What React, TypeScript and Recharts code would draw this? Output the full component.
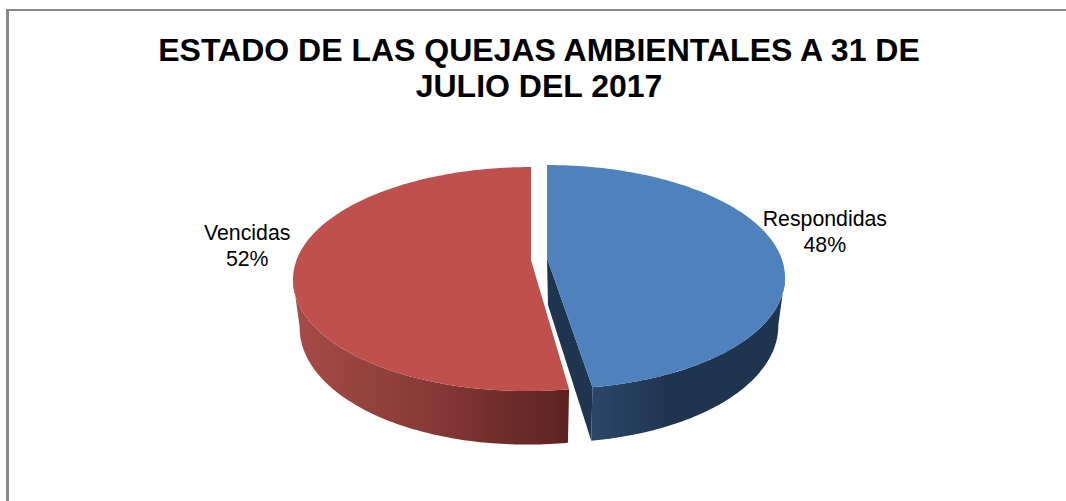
import React from "react";
import { PieChart, Pie } from "recharts";

const categories = ["Respondidas", "Vencidas"];
const seriesValues = [10, 11];
const titleLines = ["ESTADO DE LAS QUEJAS AMBIENTALES A 31 DE", "JULIO DEL 2017"];
const tableData = categories.map((name, i) => ({ name, value: seriesValues[i] }));

const W = 1066;
const H = 501;
const FONT = "'Liberation Sans', Arial, sans-serif";
const TOP_COLORS = ["#4F81BD", "#C0504D"];
const WALL_FILLS = ["url(#blueWall)", "url(#redWall)"];
const INNER_WALL = "#1F344F";
const SHIFT = [
  { dx: 8, dy: -0.5, skew: 3.5, labelDx: 47, labelDy: -24 },
  { dx: -8, dy: 1.5, skew: -4, labelDx: -47, labelDy: -28 },
];
const K = 0.17; // perspective
const BX = 0.985;
const BY = 0.457;
const DEPTH = 47;
const LOWER_X = 0.972;
const LOWER_Y = 1.05;

const rad = (d: number) => (d * Math.PI) / 180;

// theta: degrees clockwise from the top of the pie
function project(theta: number, r: number, cx: number, cy: number, lower: boolean, skew: number) {
  const u = Math.sin(rad(theta));
  const v = -Math.cos(rad(theta));
  const w = 1 - K * v;
  const sx = lower ? LOWER_X : 1;
  const sy = lower ? LOWER_Y : 1;
  return {
    x: cx + (r * BX * sx * u) / w + skew * Math.max(0, v) * Math.max(0, v),
    y: cy + (lower ? DEPTH : 0) + (r * BY * sy * v) / w,
  };
}

function arcPoints(from: number, to: number, r: number, cx: number, cy: number, lower: boolean, skew: number) {
  const n = Math.max(2, Math.ceil(Math.abs(to - from)));
  const pts = [];
  for (let i = 0; i <= n; i++) pts.push(project(from + ((to - from) * i) / n, r, cx, cy, lower, skew));
  return pts;
}

const toPath = (pts: { x: number; y: number }[]) =>
  pts.map((p, i) => `${i ? "L" : "M"}${p.x.toFixed(2)} ${p.y.toFixed(2)}`).join(" ") + " Z";

const RIGHT_EXTREME = 99.8;
const LEFT_EXTREME = 260.2;

function Slice3D(props: any) {
  const { cx, cy, outerRadius, startAngle, endAngle, index } = props;
  const t0 = 90 - startAngle;
  const t1 = 90 - endAngle;
  const c = SHIFT[index];
  const x = cx + c.dx;
  const y = cy + c.dy;
  const apex = { x, y };
  const top = arcPoints(t0, t1, outerRadius, x, y, false, c.skew);
  const wallFrom = index === 0 ? RIGHT_EXTREME : t0;
  const wallTo = index === 0 ? t1 : LEFT_EXTREME;
  const wallTop = arcPoints(wallFrom, wallTo, outerRadius, x, y, false, c.skew);
  const wallLow = arcPoints(wallTo, wallFrom, outerRadius, x, y, true, c.skew);
  const tip = project(t1, outerRadius, x, y, false, c.skew);
  const tipLow = project(t1, outerRadius, x, y, true, c.skew);
  return (
    <g>
      {index === 0 && (
        <path
          d={toPath([apex, tip, tipLow, { x: x + 1, y: y + DEPTH }])}
          fill={INNER_WALL}
        />
      )}
      <path d={toPath([...wallTop, ...wallLow])} fill={WALL_FILLS[index]} />
      <path d={toPath([apex, ...top])} fill={TOP_COLORS[index]} />
    </g>
  );
}

function SliceLabel(props: any) {
  const { cx, cy, outerRadius, midAngle, name, percent, index } = props;
  const c = SHIFT[index];
  const p = project(90 - midAngle, outerRadius, cx + c.dx, cy + c.dy, false, 0);
  const lx = p.x + c.labelDx;
  const ly = p.y + c.labelDy;
  return (
    <text x={lx} y={ly} textAnchor="middle" fontFamily={FONT} fontSize={21.3} fill="#000">
      <tspan x={lx} dy={0}>{name}</tspan>
      <tspan x={lx} dy={26}>{`${Math.round(percent * 100)}%`}</tspan>
    </text>
  );
}

export default function App() {
  return (
    <div style={{ position: "absolute", left: 0, top: 0, width: W, height: H, overflow: "hidden", background: "#fff" }}>
      <div
        style={{
          position: "absolute",
          left: 6,
          top: 9,
          width: W,
          height: H,
          borderTop: "2px solid #888888",
          borderLeft: "3px solid #888888",
        }}
      />
      <div style={{ position: "absolute", left: 0, top: 0 }}>
        <PieChart width={W} height={H} margin={{ top: 0, right: 0, bottom: 0, left: 0 }}>
          <defs>
            <linearGradient id="redWall" x1="0" y1="0" x2="1" y2="0">
              <stop offset="0" stopColor="#A64B47" />
              <stop offset="0.5" stopColor="#863A37" />
              <stop offset="1" stopColor="#5C2220" />
            </linearGradient>
            <linearGradient id="blueWall" x1="0" y1="0" x2="1" y2="0">
              <stop offset="0" stopColor="#2D4769" />
              <stop offset="0.4" stopColor="#1F344F" />
              <stop offset="1" stopColor="#1F344F" />
            </linearGradient>
          </defs>
          <text textAnchor="middle" fontFamily={FONT} fontWeight="bold" fontSize={32} fill="#000">
            <tspan x={539} y={61}>{titleLines[0]}</tspan>
            <tspan x={539} y={97}>{titleLines[1]}</tspan>
          </text>
          <Pie
            data={tableData}
            dataKey="value"
            nameKey="name"
            cx={539}
            cy={258.5}
            outerRadius={238}
            startAngle={90}
            endAngle={-270}
            stroke="none"
            isAnimationActive={false}
            shape={Slice3D}
            label={SliceLabel}
            labelLine={false}
          />
        </PieChart>
      </div>
    </div>
  );
}
